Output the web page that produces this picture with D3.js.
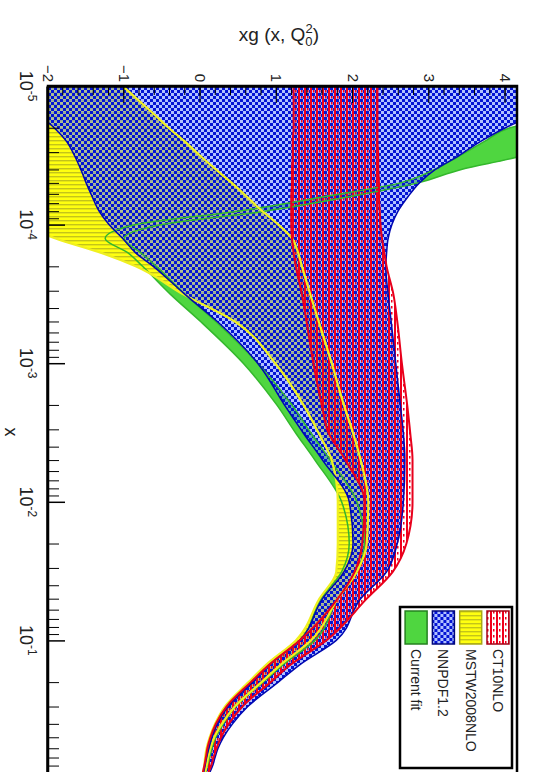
<!DOCTYPE html>
<html>
<head>
<meta charset="utf-8">
<script src="https://cdn.jsdelivr.net/npm/d3@7"></script>
<style>
	body { margin: 0; background: #fff; }
	svg { display: block; font-family: "Liberation Sans", Arial, sans-serif; }
</style>
</head>
<body>
<div id="chart"></div>
<script>

// x grid shared by every band
var xs = [1e-5, 1.6e-5, 2e-5, 2.5e-5, 3.2e-5, 4e-5, 5e-5, 6.3e-5, 8e-5, 1e-4, 1.26e-4, 1.6e-4, 2e-4, 3.2e-4, 5e-4,
	1e-3, 2e-3, 3.2e-3, 5e-3, 1e-2, 2e-2, 3.2e-2, 5e-2, 0.1, 0.15, 0.2, 0.3, 0.4, 0.5, 0.6, 0.7, 0.8, 0.9];

// xg(x,Q0^2) error bands, lower / upper edge
var ctLo = [1.22, 1.22, 1.22, 1.21, 1.21, 1.2, 1.2, 1.19, 1.19, 1.19, 1.2, 1.22, 1.25, 1.33, 1.39, 1.48, 1.59, 1.68, 1.9, 2.15, 2.12, 2.02, 1.8, 1.3, 0.9, 0.66, 0.34, 0.2, 0.13, 0.09, 0.07, 0.05, 0.03];
var ctHi = [2.32, 2.32, 2.32, 2.32, 2.33, 2.33, 2.34, 2.34, 2.35, 2.36, 2.38, 2.41, 2.44, 2.53, 2.58, 2.64, 2.71, 2.75, 2.78, 2.78, 2.7, 2.52, 2.18, 1.65, 1.18, 0.92, 0.55, 0.37, 0.27, 0.21, 0.17, 0.14, 0.1];

var mstwLo = [-6, -5, -4.6, -4.3, -4.0, -3.6, -3.2, -2.85, -2.6, -2.3, -1.9, -1.3, -0.85, -0.22, 0.45, 0.98, 1.35, 1.55, 1.72, 1.8, 1.8, 1.78, 1.56, 1.25, 0.86, 0.63, 0.32, 0.19, 0.12, 0.08, 0.06, 0.05, 0.03];
var mstwHi = [-1.02, -0.61, -0.42, -0.21, 0.0, 0.2, 0.41, 0.61, 0.81, 1.02, 1.2, 1.28, 1.33, 1.44, 1.55, 1.72, 1.88, 2.0, 2.1, 2.2, 2.18, 2.05, 1.8, 1.45, 1.05, 0.8, 0.45, 0.28, 0.18, 0.13, 0.1, 0.08, 0.06];

var nnLo = [-2.5, -2.12, -1.92, -1.76, -1.65, -1.57, -1.5, -1.42, -1.33, -1.2, -1.02, -0.85, -0.62, -0.2, 0.22, 0.75, 1.1, 1.35, 1.6, 1.95, 2.0, 1.88, 1.6, 1.3, 0.9, 0.68, 0.36, 0.22, 0.15, 0.11, 0.08, 0.06, 0.04];
var nnHi = [5.2, 4.4, 4.0, 3.68, 3.38, 3.08, 2.87, 2.72, 2.59, 2.51, 2.46, 2.44, 2.43, 2.46, 2.5, 2.56, 2.62, 2.66, 2.68, 2.66, 2.58, 2.44, 2.1, 1.78, 1.3, 1.02, 0.62, 0.42, 0.3, 0.23, 0.19, 0.16, 0.12];

var fitLo = [6.5, 4.9, 4.06, 3.73, 3.39, 3.07, 2.62, 1.62, 0.49, -0.85, -1.25, -0.95, -0.76, -0.39, 0.0, 0.56, 1.0, 1.25, 1.5, 1.85, 1.95, 1.85, 1.58, 1.3, 0.9, 0.66, 0.34, 0.21, 0.14, 0.1, 0.08, 0.06, 0.04];
var fitHi = [8, 5.8, 5.0, 4.55, 4.2, 3.42, 2.85, 1.95, 0.85, -0.5, -1.0, -0.78, -0.58, -0.2, 0.2, 0.75, 1.2, 1.45, 1.7, 2.05, 2.15, 2.05, 1.8, 1.5, 1.08, 0.82, 0.46, 0.3, 0.2, 0.15, 0.12, 0.09, 0.07];

// tick labels
var xMajor = [1e-5, 1e-4, 1e-3, 1e-2, 1e-1, 1];
var xLabelExp = ["-5", "-4", "-3", "-2", "-1"];
var yMajor = [-2, -1, 0, 1, 2, 3, 4];

var legendNames = ["CT10NLO", "MSTW2008NLO", "NNPDF1.2", "Current fit"];

// the plot is laid out landscape (772 x 534) and then turned a quarter clockwise
var W = 772, H = 534;
var frame = { left: 86, right: 779, top: 17, bottom: 486 };

var svg = d3.select("#chart").append("svg")
	.attr("width", H)
	.attr("height", W);

var defs = svg.append("defs");

// hatch patterns, ROOT style
var pBlue = defs.append("pattern").attr("id", "pBlue")
	.attr("patternUnits", "userSpaceOnUse").attr("width", 6).attr("height", 6);
pBlue.append("rect").attr("width", 6).attr("height", 6).attr("fill", "#6f8dff").attr("opacity", 0.55);
pBlue.append("rect").attr("width", 3).attr("height", 3).attr("fill", "#0414d4");
pBlue.append("rect").attr("x", 3).attr("y", 3).attr("width", 3).attr("height", 3).attr("fill", "#0414d4");

var pRed = defs.append("pattern").attr("id", "pRed")
	.attr("patternUnits", "userSpaceOnUse").attr("width", 6).attr("height", 6);
pRed.append("rect").attr("width", 6).attr("height", 2).attr("fill", "#f0001c");
pRed.append("rect").attr("y", 3.5).attr("width", 2.5).attr("height", 1.5).attr("fill", "#f0001c");

var pYellow = defs.append("pattern").attr("id", "pYellow")
	.attr("patternUnits", "userSpaceOnUse").attr("width", 4).attr("height", 4);
pYellow.append("rect").attr("width", 4).attr("height", 4).attr("fill", "#ffff10");
pYellow.append("rect").attr("width", 1.4).attr("height", 4).attr("fill", "#c4c41a");

defs.append("clipPath").attr("id", "clipFrame")
	.append("rect")
	.attr("x", frame.left).attr("y", frame.top)
	.attr("width", frame.right - frame.left).attr("height", frame.bottom - frame.top);

var g = svg.append("g")
	.attr("transform", "translate(" + H + ",0) rotate(90)");

// Scales
var xScale = d3.scaleLog().domain([1e-5, 1]).range([frame.left, frame.right]);
var yScale = d3.scaleLinear().domain([-2, 4.15]).range([frame.bottom, frame.top]);

function band(lo, hi) {
	return xs.map(function (x, i) { return { x: x, lo: lo[i], hi: hi[i] }; });
}

var bands = [
	{ name: "Current fit", data: band(fitLo, fitHi), fill: "#4fd640", line: "#34b82c", w: 1.5 },
	{ name: "MSTW2008NLO", data: band(mstwLo, mstwHi), fill: "url(#pYellow)", line: "#f0f020", w: 2.2 },
	{ name: "NNPDF1.2", data: band(nnLo, nnHi), fill: "url(#pBlue)", line: "#0008b0", w: 1.5 },
	{ name: "CT10NLO", data: band(ctLo, ctHi), fill: "url(#pRed)", line: "#e8001c", w: 2 }
];

var area = d3.area()
	.x(function (d) { return xScale(d.x); })
	.y0(function (d) { return yScale(d.lo); })
	.y1(function (d) { return yScale(d.hi); })
	.curve(d3.curveMonotoneX);

var lineLo = d3.line()
	.x(function (d) { return xScale(d.x); })
	.y(function (d) { return yScale(d.lo); })
	.curve(d3.curveMonotoneX);
var lineHi = d3.line()
	.x(function (d) { return xScale(d.x); })
	.y(function (d) { return yScale(d.hi); })
	.curve(d3.curveMonotoneX);

var plot = g.append("g").attr("clip-path", "url(#clipFrame)");

plot.selectAll(".band")
	.data(bands)
	.enter().append("path")
	.attr("class", "band")
	.attr("d", function (b) { return area(b.data); })
	.attr("fill", function (b) { return b.fill; });

// band outlines on top of all fills
bands.forEach(function (b) {
	plot.append("path").attr("d", lineLo(b.data))
		.attr("fill", "none").attr("stroke", b.line).attr("stroke-width", b.w);
	plot.append("path").attr("d", lineHi(b.data))
		.attr("fill", "none").attr("stroke", b.line).attr("stroke-width", b.w);
});

// x axis: ticks point into the frame
var xMinor = [];
for (var e = -5; e < 0; e++) {
	for (var m = 2; m <= 9; m++) xMinor.push(m * Math.pow(10, e));
}

g.append("g")
	.attr("transform", "translate(0," + frame.bottom + ")")
	.call(d3.axisBottom(xScale).tickValues(xMinor).tickSize(-11).tickSizeOuter(0).tickFormat(""))
	.call(function (s) { s.select(".domain").remove(); });

g.append("g")
	.attr("class", "axis axis--x")
	.attr("transform", "translate(0," + frame.bottom + ")")
	.call(d3.axisBottom(xScale).tickValues(xMajor).tickSize(-17).tickSizeOuter(0).tickFormat(""))
	.call(function (s) { s.select(".domain").attr("stroke-width", 2.5); s.selectAll(".tick line").attr("stroke-width", 1.5); });

var xLab = g.append("g")
	.selectAll("text")
	.data(xLabelExp)
	.enter().append("text")
	.attr("x", function (d, i) { return xScale(xMajor[i]); })
	.attr("y", 514)
	.attr("text-anchor", "middle")
	.attr("font-size", 18)
	.attr("fill", "#222");
xLab.append("tspan").text("10");
xLab.append("tspan").attr("dy", -8).attr("font-size", 12).text(function (d) { return d; });

// y axis
var yMinor = d3.range(-2, 4.15, 0.2);

g.append("g")
	.attr("transform", "translate(" + frame.left + ",0)")
	.call(d3.axisLeft(yScale).tickValues(yMinor).tickSize(-9).tickSizeOuter(0).tickFormat(""))
	.call(function (s) { s.select(".domain").remove(); });

g.append("g")
	.attr("class", "axis axis--y")
	.attr("transform", "translate(" + frame.left + ",0)")
	.call(d3.axisLeft(yScale).tickValues(yMajor).tickSize(-17).tickSizeOuter(0).tickPadding(4).tickFormat(d3.format("d")))
	.call(function (s) {
		s.select(".domain").attr("stroke-width", 2.5);
		s.selectAll("text").attr("font-size", 15).attr("fill", "#222")
			.attr("font-family", "Liberation Sans, Arial, sans-serif");
	});

// frame
g.append("rect")
	.attr("x", frame.left).attr("y", frame.top)
	.attr("width", frame.right - frame.left).attr("height", frame.bottom - frame.top)
	.attr("fill", "none").attr("stroke", "#000").attr("stroke-width", 2.5);

// axis titles
g.append("text")
	.attr("x", 432).attr("y", 529)
	.attr("text-anchor", "middle")
	.attr("font-size", 18)
	.attr("fill", "#222")
	.text("x");

var yTitle = g.append("text")
	.attr("transform", "translate(41,255) rotate(-90)")
	.attr("text-anchor", "middle")
	.attr("font-size", 19)
	.attr("fill", "#222");
yTitle.append("tspan").text("xg (x, Q");
yTitle.append("tspan").attr("dy", 5).attr("font-size", 13).text("0");
yTitle.append("tspan").attr("dx", -7).attr("dy", -13).attr("font-size", 13).text("2");
yTitle.append("tspan").attr("dy", 8).text(")");

// legend, top right of the frame
var legend = g.append("g");
legend.append("rect")
	.attr("x", 607).attr("y", 22).attr("width", 161).attr("height", 112)
	.attr("fill", "#fff").attr("stroke", "#000").attr("stroke-width", 2.5);

var legendBands = [bands[3], bands[1], bands[2], bands[0]];
var entry = legend.selectAll(".entry")
	.data(legendBands)
	.enter().append("g")
	.attr("class", "entry")
	.attr("transform", function (d, i) { return "translate(611," + (36 + i * 27.3) + ")"; });

entry.append("rect")
	.attr("x", 0).attr("y", -11).attr("width", 33).attr("height", 22)
	.attr("fill", function (d) { return d.fill; })
	.attr("stroke", function (d) { return d3.color(d.line).darker(1); })
	.attr("stroke-width", 1.5);

entry.append("text")
	.attr("x", 38).attr("y", 0)
	.attr("dy", "0.35em")
	.attr("font-size", 14)
	.attr("fill", "#222")
	.text(function (d, i) { return legendNames[i]; });

</script>
</body>
</html>
